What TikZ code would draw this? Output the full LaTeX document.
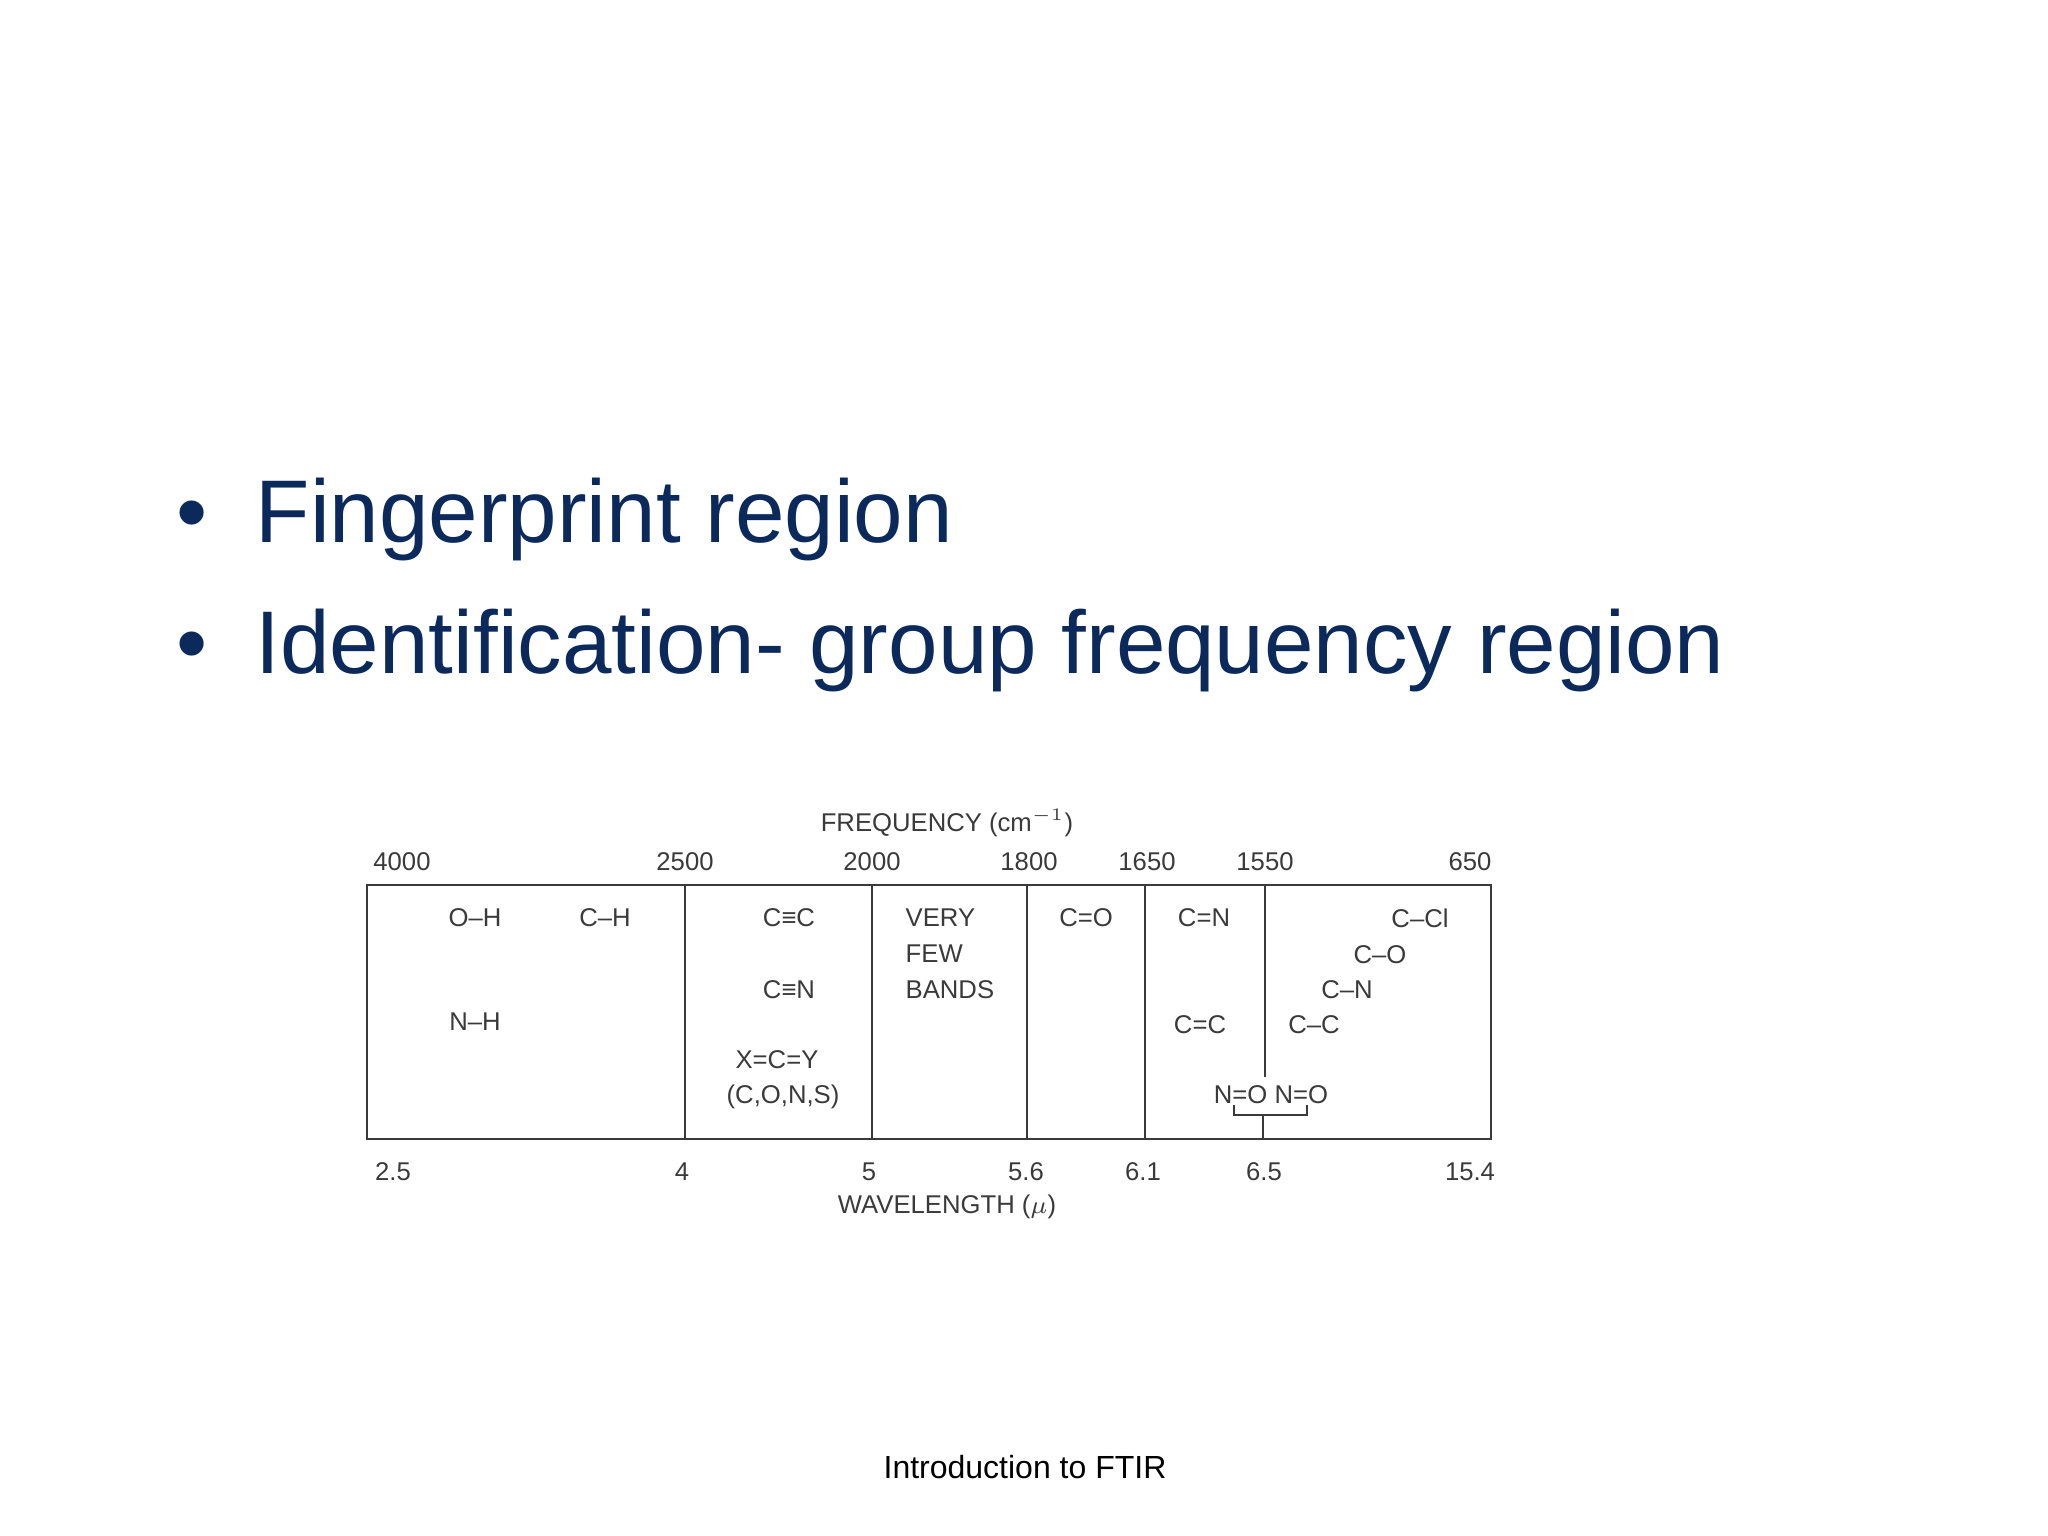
\documentclass[tikz,border=0pt]{standalone}
\usepackage{fontspec}
\setmainfont{Liberation Sans}
\definecolor{navy}{HTML}{0B2A5B}
\definecolor{ink}{HTML}{3A3A3A}
\begin{document}
\begin{tikzpicture}[x=0.01cm,y=-0.01cm,
  lab/.style={font=\fontsize{7.3}{8}\selectfont, text=ink, inner sep=0pt},
  bul/.style={font=\fontsize{25.3}{28}\selectfont, text=navy, anchor=base west, inner sep=0pt},
  ln/.style={draw=ink, line width=0.7pt}]
\useasboundingbox (0,0) rectangle (2048,1536);
% bullets
\node[bul] (b1) at (176,542) {\textbullet};
\node[bul] (t1) at (255,542) {Fingerprint region};
\node[bul] (b2) at (176,673) {\textbullet};
\node[bul] (t2) at (255,673) {Identification- group frequency region};
% chart frame
\coordinate (tl) at (367,885); \coordinate (br) at (1491,1139);
\draw[ln] (tl) rectangle (br);
\coordinate (d1t) at (685,885); \coordinate (d1b) at (685,1139);
\coordinate (d2t) at (872,885); \coordinate (d2b) at (872,1139);
\coordinate (d3t) at (1027,885); \coordinate (d3b) at (1027,1139);
\coordinate (d4t) at (1145,885); \coordinate (d4b) at (1145,1139);
\coordinate (d5t) at (1265,885); \coordinate (d5b) at (1265,1077);
\coordinate (k1) at (1263,1139); \coordinate (k2) at (1263,1115);
\coordinate (q1) at (1234,1105); \coordinate (q2) at (1234,1115);
\coordinate (q3) at (1307,1115); \coordinate (q4) at (1307,1105);
\draw[ln] (d1t)--(d1b) (d2t)--(d2b) (d3t)--(d3b) (d4t)--(d4b) (d5t)--(d5b);
\draw[ln] (k1)--(k2) (q1)--(q2)--(q3)--(q4);
% top axis
\node[lab] (f) at (947,823) {FREQUENCY (cm$^{-1}$)};
\node[lab] (f1) at (402,862) {4000};
\node[lab] (f2) at (685,862) {2500};
\node[lab] (f3) at (872,862) {2000};
\node[lab] (f4) at (1029,862) {1800};
\node[lab] (f5) at (1147,862) {1650};
\node[lab] (f6) at (1265,862) {1550};
\node[lab] (f7) at (1470,862) {650};
% bottom axis
\node[lab] (w1) at (393,1172) {2.5};
\node[lab] (w2) at (682,1172) {4};
\node[lab] (w3) at (869,1172) {5};
\node[lab] (w4) at (1026,1172) {5.6};
\node[lab] (w5) at (1143,1172) {6.1};
\node[lab] (w6) at (1264,1172) {6.5};
\node[lab] (w7) at (1470,1172) {15.4};
\node[lab] (w) at (947,1207) {WAVELENGTH ($\mu$)};
% interior
\node[lab] (oh) at (475,918) {O–H};
\node[lab] (ch) at (605,918) {C–H};
\node[lab] (nh) at (475,1022) {N–H};
\node[lab] (cc3) at (789,918) {C≡C};
\node[lab] (cn3) at (789,990) {C≡N};
\node[lab] (xcy) at (777,1060) {X=C=Y};
\node[lab] (cons) at (783,1097) {(C,O,N,S)};
\node[lab,anchor=west] (vf) at (905,918) {VERY};
\node[lab,anchor=west] (vf2) at (905,954) {FEW};
\node[lab,anchor=west] (vf3) at (905,990) {BANDS};
\node[lab] (co2) at (1086,918) {C=O};
\node[lab] (cn2) at (1204,918) {C=N};
\node[lab] (cc2) at (1200,1025) {C=C};
\node[lab] (ccl) at (1420,918) {C–Cl};
\node[lab] (co) at (1380,955) {C–O};
\node[lab] (cn) at (1347,990) {C–N};
\node[lab] (cc) at (1314,1025) {C–C};
\node[lab] (no) at (1271,1095) {N=O N=O};
% footer
\node[font=\fontsize{9.1}{10}\selectfont, anchor=base, inner sep=0pt] (ft) at (1025,1478) {Introduction to FTIR};
\end{tikzpicture}
\end{document}
